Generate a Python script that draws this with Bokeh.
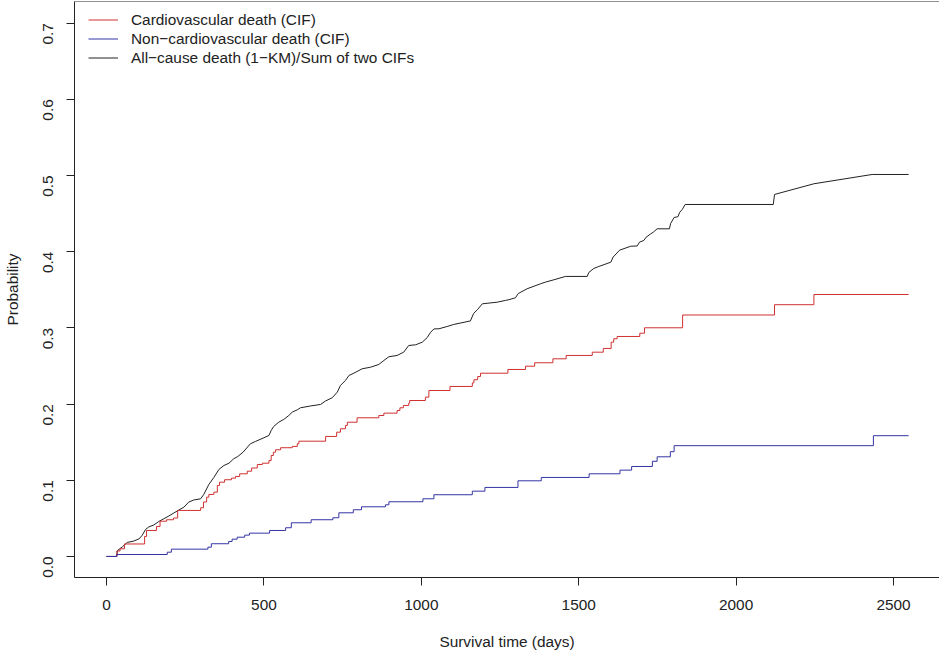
from math import pi
from bokeh.plotting import figure
from bokeh.models import (Range1d, FixedTicker, PrintfTickFormatter, Legend,
                          LegendItem, Span)
from bokeh.embed import file_html
from bokeh.resources import INLINE

# ---- data ----
# Cardiovascular death (CIF): step function
days_cv = [0, 33, 43, 57, 121, 127, 159, 170, 191, 213, 226, 299, 308, 318, 325,
           341, 352, 359, 375, 397, 410, 423, 447, 461, 479, 495, 516, 523, 530,
           537, 553, 590, 606, 611, 696, 731, 743, 759, 765, 796, 865, 881, 923,
           932, 943, 960, 963, 1013, 1024, 1091, 1162, 1167, 1179, 1188, 1275,
           1331, 1360, 1418, 1460, 1543, 1578, 1603, 1611, 1622, 1694, 1709,
           1830, 2122, 2247, 2548]
cif_cv = [0.0, 0.0072, 0.0101, 0.0164, 0.0262, 0.0341, 0.0394, 0.0463, 0.0482,
          0.0505, 0.0604, 0.0639, 0.0715, 0.0778, 0.0814, 0.0844, 0.0932, 0.0975,
          0.1007, 0.1028, 0.1050, 0.1085, 0.1119, 0.1161, 0.1207, 0.1224, 0.1260,
          0.1325, 0.1369, 0.1400, 0.1427, 0.1444, 0.1479, 0.1513, 0.1575, 0.1631,
          0.1676, 0.1719, 0.1762, 0.1820, 0.1850, 0.1881, 0.1916, 0.1951, 0.1982,
          0.2012, 0.2047, 0.2091, 0.2178, 0.2231, 0.2277, 0.2319, 0.2362, 0.2405,
          0.2454, 0.2497, 0.2542, 0.2594, 0.2638, 0.2681, 0.2730, 0.2812, 0.2857,
          0.2887, 0.2930, 0.3001, 0.3169, 0.3304, 0.3438, 0.3438]

# Non-cardiovascular death (CIF): step function
days_ncv = [0, 33, 193, 206, 322, 333, 388, 399, 415, 439, 454, 518, 569, 587,
            650, 719, 738, 784, 810, 886, 897, 1005, 1040, 1162, 1202, 1307, 1381,
            1533, 1631, 1668, 1734, 1749, 1791, 1803, 2436, 2548]
cif_ncv = [0.0, 0.0026, 0.0056, 0.0096, 0.0122, 0.0167, 0.0197, 0.0227, 0.0253,
           0.0280, 0.0306, 0.0341, 0.0377, 0.0442, 0.0482, 0.0508, 0.0573, 0.0613,
           0.0652, 0.0678, 0.0718, 0.0757, 0.0810, 0.0857, 0.0906, 0.0993, 0.1037,
           0.1085, 0.1133, 0.1181, 0.1249, 0.1308, 0.1375, 0.1454, 0.1585, 0.1585]

# All-cause death (1-KM) / sum of two CIFs: polyline
days_all = [0, 32, 35, 50, 66, 87, 103, 113, 124, 134, 150, 166, 182, 198, 214,
            230, 246, 261, 277, 299, 309, 325, 341, 357, 373, 389, 404, 417, 434,
            457, 473, 500, 516, 523, 531, 547, 563, 579, 590, 606, 616, 648, 680,
            696, 717, 733, 743, 759, 770, 786, 812, 839, 865, 881, 897, 923, 944,
            960, 982, 1003, 1019, 1029, 1040, 1056, 1082, 1103, 1156, 1166, 1178,
            1194, 1241, 1267, 1278, 1299, 1308, 1336, 1379, 1394, 1421, 1458, 1527,
            1532, 1548, 1564, 1602, 1609, 1630, 1665, 1686, 1693, 1707, 1714, 1728,
            1737, 1749, 1788, 1792, 1803, 1815, 1821, 1829, 1838, 2118, 2122, 2247,
            2432, 2548]
prob_all = [0.0, 0.0, 0.0079, 0.0125, 0.0184, 0.0203, 0.0230, 0.0276, 0.0354,
            0.0387, 0.0413, 0.0459, 0.0495, 0.0531, 0.0571, 0.0610, 0.0647, 0.0713,
            0.0741, 0.0757, 0.0814, 0.0945, 0.1037, 0.1142, 0.1194, 0.1224, 0.1282,
            0.1312, 0.1369, 0.1479, 0.1509, 0.1558, 0.1588, 0.1654, 0.1706, 0.1762,
            0.1798, 0.1850, 0.1894, 0.1925, 0.1951, 0.1975, 0.1995, 0.2041, 0.2083,
            0.2156, 0.2244, 0.2310, 0.2375, 0.2406, 0.2463, 0.2484, 0.2520, 0.2572,
            0.2621, 0.2638, 0.2681, 0.2769, 0.2778, 0.2812, 0.2874, 0.2940, 0.2986,
            0.2988, 0.3018, 0.3045, 0.3091, 0.3189, 0.3238, 0.3316, 0.3337, 0.3360,
            0.3369, 0.3395, 0.3451, 0.3513, 0.3579, 0.3600, 0.3631, 0.3675, 0.3675,
            0.3727, 0.3780, 0.3806, 0.3862, 0.3928, 0.4020, 0.4071, 0.4075, 0.4125,
            0.4147, 0.4190, 0.4232, 0.4256, 0.4300, 0.4300, 0.4370, 0.4449, 0.4458,
            0.4518, 0.4554, 0.4619, 0.4619, 0.4751, 0.4891, 0.5013, 0.5013]

x_ticks = [0, 500, 1000, 1500, 2000, 2500]
y_ticks = [0.0, 0.1, 0.2, 0.3, 0.4, 0.5, 0.6, 0.7]

labels = ["Cardiovascular death (CIF)", "Non\u2212cardiovascular death (CIF)",
          "All\u2212cause death (1\u2212KM)/Sum of two CIFs"]

# ---- styling ----
FONT = "Liberation Sans"
FS = "15.4px"
INK = "#222222"
RED = "#d03030"
BLUE = "#3434a4"
BLACK = "#222222"

X0, X1 = -101.7, 2646.0
Y0, Y1 = -0.0276, 0.7283

p = figure(width=939, height=652, output_backend="svg", toolbar_location=None,
           x_range=Range1d(X0, X1), y_range=Range1d(Y0, Y1),
           min_border_left=74, min_border_right=0, min_border_top=1,
           min_border_bottom=75)
p.outline_line_color = None
p.grid.visible = False
p.background_fill_color = "white"
p.border_fill_color = "white"

for ax in (p.xaxis[0], p.yaxis[0]):
    ax.axis_line_color = INK
    ax.axis_line_width = 1
    ax.major_tick_line_color = INK
    ax.major_tick_out = 8
    ax.major_tick_in = 0
    ax.minor_tick_line_color = None
    ax.major_label_text_font = FONT
    ax.major_label_text_font_size = FS
    ax.major_label_text_color = INK
    ax.axis_label_text_font = FONT
    ax.axis_label_text_font_size = FS
    ax.axis_label_text_font_style = "normal"
    ax.axis_label_text_color = INK

p.xaxis.ticker = FixedTicker(ticks=x_ticks)
p.yaxis.ticker = FixedTicker(ticks=y_ticks)
p.yaxis.formatter = PrintfTickFormatter(format="%.1f")
p.yaxis.major_label_orientation = pi / 2
p.xaxis.axis_label = "Survival time (days)"
p.yaxis.axis_label = "Probability"
p.xaxis.major_label_standoff = 14
p.xaxis.axis_label_standoff = 20
p.yaxis.major_label_standoff = 18
p.yaxis.axis_label_standoff = 15

# top border of the box (right edge is outside the picture)
p.add_layout(Span(location=Y1, dimension="width", line_color=INK, line_width=1))

r_all = p.line(days_all, prob_all, line_color=BLACK, line_width=1)
r_cv = p.step(days_cv, cif_cv, mode="after", line_color=RED, line_width=1)
r_ncv = p.step(days_ncv, cif_ncv, mode="after", line_color=BLUE, line_width=1)

legend = Legend(items=[LegendItem(label=labels[0], renderers=[r_cv]),
                       LegendItem(label=labels[1], renderers=[r_ncv]),
                       LegendItem(label=labels[2], renderers=[r_all])],
                location=(14, 510), padding=0, margin=0, spacing=0,
                border_line_color=None, background_fill_alpha=0,
                glyph_width=30, glyph_height=19, label_height=19,
                label_standoff=13, label_text_font=FONT,
                label_text_font_size=FS, label_text_color=INK)
p.add_layout(legend)

open("out.html", "w").write(file_html(p, INLINE))
